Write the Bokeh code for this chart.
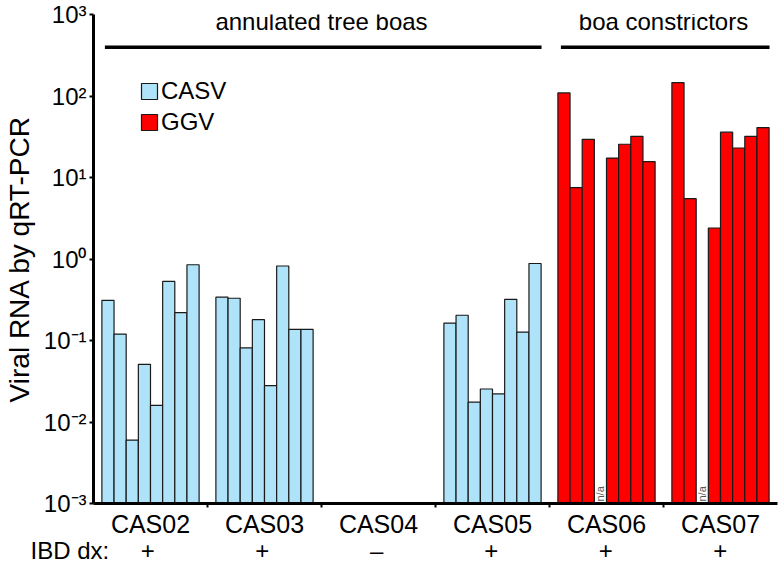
import math
from bokeh.plotting import figure
from bokeh.models import (ColumnDataSource, Range1d, FixedTicker, Legend,
                          LegendItem)
from bokeh.core.properties import value
from bokeh.embed import file_html
from bokeh.resources import INLINE

# ---------------- data ----------------
categories = ["CAS02", "CAS03", "CAS04", "CAS05", "CAS06", "CAS07"]
virus = ["CASV", "CASV", "CASV", "CASV", "GGV", "GGV"]
ibd_dx = ["+", "+", "\u2013", "+", "+", "+"]

# viral RNA by qRT-PCR, 8 samples per animal (None = n/a)
cas02 = [0.31, 0.12, 0.006, 0.051, 0.016, 0.53, 0.22, 0.85]
cas03 = [0.34, 0.33, 0.081, 0.18, 0.028, 0.82, 0.137, 0.137]
cas04 = []  # nothing detected
cas05 = [0.163, 0.204, 0.0175, 0.0254, 0.0221, 0.32, 0.127, 0.88]
cas06 = [109, 7.5, 29.4, None, 17.3, 25.6, 32, 15.7]
cas07 = [146, 5.5, None, 2.4, 36, 23, 32, 41]
values = [cas02, cas03, cas04, cas05, cas06, cas07]

group_names = ["annulated tree boas", "boa constrictors"]
group_start = [0, 4]
group_end = [4, 6]

y_ticks = [1e-3, 1e-2, 1e-1, 1e0, 1e1, 1e2, 1e3]
y_tick_labels = ["10\u207b\u00b3", "10\u207b\u00b2", "10\u207b\u00b9",
                 "10\u2070", "10\u00b9", "10\u00b2", "10\u00b3"]

virus_colors = {"CASV": "#AEE3FA", "GGV": "#FF0000"}
FONT = "Liberation Sans"

# ---------------- geometry ----------------
W = 778
BORDER_L, BORDER_R = 90, 1
n_cat = len(categories)
unit_px = (W - BORDER_L - BORDER_R) / n_cat

n_slots = 8
slot_w = 0.1066
pad = (1 - n_slots * slot_w) / 2

src = {"CASV": dict(x=[], top=[]), "GGV": dict(x=[], top=[])}
na_x = []
for i, vals in enumerate(values):
    for j, v in enumerate(vals):
        xc = i + pad + (j + 0.5) * slot_w
        if v is None:
            na_x.append(xc)
        else:
            src[virus[i]]["x"].append(xc)
            src[virus[i]]["top"].append(v)

p = figure(width=W, height=540,
           x_range=Range1d(0, n_cat), y_range=Range1d(1e-3, 1e3),
           y_axis_type="log", output_backend="svg", toolbar_location=None,
           min_border_left=BORDER_L, min_border_right=BORDER_R,
           min_border_top=14, min_border_bottom=35)
p.outline_line_color = None
p.xgrid.grid_line_color = None
p.ygrid.grid_line_color = None

renderers = {}
for name in ["CASV", "GGV"]:
    renderers[name] = p.vbar(x="x", top="top", bottom=1e-3, width=slot_w,
                             source=ColumnDataSource(src[name]),
                             fill_color=virus_colors[name],
                             line_color="#1a1a1a", line_width=1.2)

# n/a markers
p.text(x=na_x, y=[1e-3] * len(na_x), text=["n/a"] * len(na_x),
       angle=math.pi / 2, text_align="left", text_baseline="middle",
       text_font_size="11px", text_color="#555555", y_offset=-2,
       text_font=value(FONT))

# group headers
header_y = 396
p.segment(x0=[s + 0.1 for s in group_start], x1=[e - 0.07 for e in group_end],
          y0=[header_y] * 2, y1=[header_y] * 2, line_width=3.5,
          line_color="black")
p.text(x=[(s + e) / 2 for s, e in zip(group_start, group_end)],
       y=[header_y] * 2, text=group_names, text_align="center",
       text_baseline="alphabetic", y_offset=-26, text_font_size="24px",
       text_color="black", text_font=value(FONT))

# legend
legend = Legend(items=[LegendItem(label=n, renderers=[renderers[n]])
                       for n in ["CASV", "GGV"]],
                location=(46, 367), padding=0, margin=0, spacing=3,
                glyph_width=20, glyph_height=20, label_height=20,
                label_standoff=2, label_text_font_size="24px",
                label_text_font=FONT, label_text_color="black",
                border_line_color=None, background_fill_alpha=0)
p.add_layout(legend)

# y axis
ya = p.yaxis[0]
ya.ticker = FixedTicker(ticks=y_ticks)
ya.major_label_overrides = {t: l for t, l in zip(y_ticks, y_tick_labels)}
ya.major_label_text_font_size = "24px"
ya.major_label_text_font = FONT
ya.major_label_text_color = "black"
ya.major_label_standoff = 3
ya.axis_line_width = 3
ya.major_tick_line_width = 2
ya.major_tick_out = 4
ya.major_tick_in = 0
ya.minor_tick_line_color = None
ya.axis_label = "Viral RNA by qRT-PCR"
ya.axis_label_text_font_size = "28px"
ya.axis_label_text_font = FONT
ya.axis_label_text_color = "black"
ya.axis_label_text_font_style = "normal"
ya.axis_label_standoff = 6

# x axis
xa = p.xaxis[0]
centers = [i + 0.5 for i in range(n_cat)]
xa.ticker = FixedTicker(ticks=centers, minor_ticks=list(range(1, n_cat)))
xa.major_label_overrides = {c: n for c, n in zip(centers, categories)}
xa.major_label_text_font_size = "25px"
xa.major_label_text_font = FONT
xa.major_label_text_color = "black"
xa.major_label_standoff = 2
xa.axis_line_width = 3
xa.major_tick_out = 0
xa.major_tick_in = 0
xa.major_tick_line_color = None
xa.minor_tick_out = 4
xa.minor_tick_in = 0
xa.minor_tick_line_width = 2

# IBD dx row: a separate transparent strip whose frame spans the full width,
# with an x range that lines up with the main plot's categories
p2 = figure(width=W, height=33,
            x_range=Range1d(-BORDER_L / unit_px, n_cat + BORDER_R / unit_px),
            y_range=Range1d(0, 33), output_backend="svg",
            toolbar_location=None, min_border=0,
            x_axis_location=None, y_axis_location=None)
p2.margin = (-8, 0, 0, 0)
p2.outline_line_color = None
p2.background_fill_alpha = 0
p2.border_fill_alpha = 0
p2.grid.visible = False
p2.text(x=centers, y=[15] * n_cat, text=ibd_dx, text_align="center",
        text_baseline="middle", text_font_size="24px", text_color="black",
        text_font=value(FONT))
p2.text(x=[-60 / unit_px], y=[15], text=["IBD dx:"], text_align="left",
        text_baseline="middle", text_font_size="24px", text_color="black",
        text_font=value(FONT))

open("out.html", "w").write(file_html([p, p2], INLINE))
